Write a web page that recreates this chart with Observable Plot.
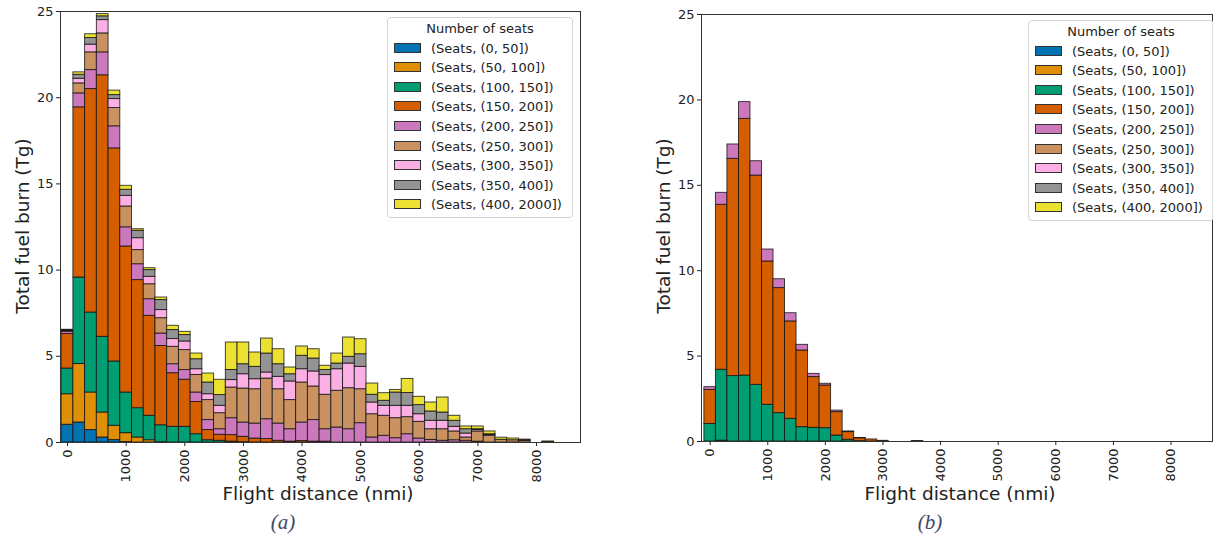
<!DOCTYPE html>
<html><head><meta charset="utf-8">
<script src="https://cdn.jsdelivr.net/npm/d3@7"></script>
<script src="https://cdn.jsdelivr.net/npm/@observablehq/plot@0.6"></script>
<style>
body{margin:0;background:#fff;width:1213px;height:540px;overflow:hidden;font-family:"DejaVu Sans",sans-serif;color:#222;}
#root{position:relative;width:1213px;height:540px;}
.panel{position:absolute;top:0;}
.abs{position:absolute;white-space:nowrap;}
.ylab{font-size:18.5px;transform:translate(-50%,-50%) rotate(-90deg);}
.xlab{font-size:18.5px;transform:translate(-50%,-50%);}
.cap{font-family:"Liberation Serif",serif;font-style:italic;font-size:21px;color:#3d4a68;transform:translate(-50%,-50%);}
.legbox{position:absolute;border:1px solid #d3d3d3;border-radius:4px;background:rgba(255,255,255,0.85);box-sizing:border-box;z-index:5;}
.legtitle{position:absolute;font-size:13px;transform:translate(-50%,-50%);z-index:6;white-space:nowrap;}
.legtext{position:absolute;font-size:13px;transform:translateY(-50%);z-index:6;white-space:nowrap;}
.sw{position:absolute;width:27px;height:10px;border:1px solid #333;box-sizing:border-box;z-index:6;}
</style></head><body><div id="root"></div>
<script>
const seatLabels = ["(Seats, (0, 50])","(Seats, (50, 100])","(Seats, (100, 150])","(Seats, (150, 200])","(Seats, (200, 250])","(Seats, (250, 300])","(Seats, (300, 350])","(Seats, (350, 400])","(Seats, (400, 2000])"];
const seatColors = ["#0173B2","#DE8F05","#029E73","#D55E00","#CC78BC","#CA9161","#FBAFE4","#949494","#ECE133"];
const xTicks = [0,1000,2000,3000,4000,5000,6000,7000,8000];
const yTicks = [0,5,10,15,20,25];
const binWidth = 200;

// Panel (a): bin centres (nmi)
const binCentersA = [0,200,400,600,800,1000,1200,1400,1600,1800,2000,2200,2400,2600,2800,3000,3200,3400,3600,3800,4000,4200,4400,4600,4800,5000,5200,5400,5600,5800,6000,6200,6400,6600,6800,7000,7200,7400,7600,7800,8000,8200];
const seats0_50A    = [1.03,1.16,0.72,0.29,0.14,0.03,0,0,0,0,0,0,0,0,0,0,0,0,0,0,0,0,0,0,0,0,0,0,0,0,0,0,0,0,0,0,0,0,0,0,0,0];
const seats50_100A  = [1.77,3.39,2.18,1.45,0.83,0.51,0.29,0.13,0.02,0,0,0,0,0,0,0,0,0,0,0,0,0,0,0,0,0,0,0,0,0,0,0,0,0,0,0,0,0,0,0,0,0];
const seats100_150A = [1.49,5.02,4.64,4.39,3.73,2.36,1.70,1.42,0.98,0.91,0.91,0.48,0.13,0.10,0.05,0.02,0,0,0,0,0,0,0,0,0,0,0,0,0,0,0,0,0,0,0,0,0,0,0,0,0,0];
const seats150_200A = [2.00,9.87,12.96,15.17,12.36,8.47,7.43,5.80,4.60,3.11,2.73,1.87,0.59,0.35,0.38,0.31,0.23,0.20,0.10,0.05,0.08,0.05,0.05,0,0,0,0,0,0,0,0,0,0,0,0,0,0,0,0,0,0,0];
const seats200_250A = [0.13,0.81,1.10,1.33,1.28,1.11,0.92,0.96,0.72,0.52,0.56,0.55,0.58,0.32,0.98,0.83,0.87,1.15,1.00,0.72,1.08,1.25,0.72,0.87,0.77,1.12,0.29,0.39,0.25,0.48,0.23,0.15,0.10,0.13,0.10,0.05,0,0,0,0,0,0];
const seats250_300A = [0.05,0.58,1.03,1.10,1.06,1.21,0.82,0.87,0.89,1.01,1.16,1.02,1.16,0.93,1.78,1.97,1.99,2.36,1.99,1.69,2.32,1.95,2.00,2.13,2.38,1.97,1.35,1.16,1.16,0.99,0.97,0.62,0.67,0.51,0.19,0.59,0.39,0.16,0.13,0.10,0,0];
const seats300_350A = [0.03,0.27,0.45,0.77,0.52,0.62,0.69,0.43,0.47,0.45,0.50,0.33,0.34,0.43,0.43,0.83,0.58,0.35,0.72,1.08,0.77,0.87,1.14,1.25,1.43,1.30,0.68,0.58,0.72,0.66,0.44,0.49,0.49,0.27,0.23,0.08,0.05,0,0,0,0,0];
const seats350_400A = [0.02,0.23,0.38,0.22,0.23,0.35,0.43,0.39,0.58,0.52,0.37,0.58,0.68,0.62,0.59,0.58,0.72,1.10,0.73,0.42,0.78,0.75,0.30,0.33,0.39,0.73,0.45,0.29,0.77,0.74,0.53,0.54,0.48,0.35,0.25,0.05,0.04,0,0,0.02,0,0.03];
const seats400_2000A= [0.02,0.14,0.22,0.13,0.26,0.23,0.09,0.11,0.15,0.25,0.19,0.33,0.52,0.89,1.59,1.26,0.83,0.87,0.87,0.39,0.54,0.54,0.24,0.58,1.12,0.87,0.65,0.44,0.15,0.82,0.48,0.52,0.87,0.29,0.16,0.16,0.16,0.12,0.10,0.05,0,0.03];

// Panel (b)
const binCentersB = [0,200,400,600,800,1000,1200,1400,1600,1800,2000,2200,2400,2600,2800,3000,3200,3400,3600];
const seats0_50B    = [0,0,0,0,0,0,0,0,0,0,0,0,0,0,0,0,0,0,0];
const seats50_100B  = [0,0.05,0,0,0,0,0,0,0,0,0,0,0,0,0,0,0,0,0];
const seats100_150B = [1.03,4.15,3.83,3.86,3.32,2.15,1.66,1.33,0.84,0.80,0.78,0.35,0.10,0.02,0,0,0,0,0];
const seats150_200B = [1.99,9.66,12.72,15.03,12.25,8.39,7.32,5.70,4.49,2.97,2.50,1.37,0.45,0.17,0.12,0.04,0,0,0.03];
const seats200_250B = [0.16,0.70,0.84,0.98,0.84,0.70,0.52,0.48,0.33,0.19,0.10,0.09,0.04,0.02,0,0,0,0,0];
const seats250_300B = [0,0,0,0,0,0,0,0,0,0,0,0,0,0,0,0,0,0,0];
const seats300_350B = [0,0,0,0,0,0,0,0,0,0,0,0,0,0,0,0,0,0,0];
const seats350_400B = [0,0,0,0,0,0,0,0,0,0,0,0,0,0,0,0,0,0,0];
const seats400_2000B= [0,0,0,0,0,0,0,0,0,0,0,0,0,0,0,0,0,0,0];

function stackRows(centers, series) {
  const rows = [];
  centers.forEach((c, i) => {
    let y = 0;
    series.forEach((s, k) => {
      const v = s[i];
      if (v > 0) rows.push({x1: c - binWidth / 2, x2: c + binWidth / 2, y1: y, y2: y + v, seat: seatLabels[k]});
      y += v;
    });
  });
  return rows;
}

const rowsA = stackRows(binCentersA, [seats0_50A, seats50_100A, seats100_150A, seats150_200A, seats200_250A, seats250_300A, seats300_350A, seats350_400A, seats400_2000A]);
const rowsB = stackRows(binCentersB, [seats0_50B, seats50_100B, seats100_150B, seats150_200B, seats200_250B, seats250_300B, seats300_350B, seats350_400B, seats400_2000B]);

function makePanel(rows, o) {
  return Plot.plot({
    width: o.width, height: 510,
    marginTop: o.marginTop, marginBottom: o.marginBottom, marginLeft: o.marginLeft, marginRight: o.marginRight,
    style: {fontFamily: "DejaVu Sans", fontSize: "13px", color: "#222", background: "transparent", overflow: "visible"},
    x: {domain: o.xDomain, ticks: xTicks, tickFormat: d => String(d), tickRotate: -90, tickSize: 4, tickPadding: 3, label: null},
    y: {domain: [0, 25], ticks: yTicks, tickSize: 4, tickPadding: 3, label: null},
    color: {domain: seatLabels, range: seatColors},
    marks: [
      Plot.rect(rows, {x1: "x1", x2: "x2", y1: "y1", y2: "y2", fill: "seat", stroke: "#111", strokeWidth: 0.9, strokeOpacity: 0.85}),
      Plot.frame({stroke: "#333", strokeWidth: 1})
    ]
  });
}

const root = document.getElementById("root");
function place(el, left) { const d = document.createElement("div"); d.className = "panel"; d.style.left = left + "px"; d.appendChild(el); root.appendChild(d); }
place(makePanel(rowsA, {width: 600, marginTop: 11, marginBottom: 68, marginLeft: 60, marginRight: 20, xDomain: [-120, 8750]}), 0);
place(makePanel(rowsB, {width: 613, marginTop: 14, marginBottom: 69, marginLeft: 101, marginRight: 1, xDomain: [-150, 8720]}), 600);

function text(cls, str, x, y) { const d = document.createElement("div"); d.className = "abs " + cls; d.textContent = str; d.style.left = x + "px"; d.style.top = y + "px"; root.appendChild(d); }
text("ylab", "Total fuel burn (Tg)", 22, 226);
text("ylab", "Total fuel burn (Tg)", 663, 226);
text("xlab", "Flight distance (nmi)", 318, 493);
text("xlab", "Flight distance (nmi)", 960, 493);
text("cap", "(a)", 283, 522);
text("cap", "(b)", 930, 522);

function legend(left, top, width) {
  const box = document.createElement("div"); box.className = "legbox";
  Object.assign(box.style, {left: left + "px", top: top + "px", width: width + "px", height: "201px"});
  root.appendChild(box);
  const t = document.createElement("div"); t.className = "legtitle"; t.textContent = "Number of seats";
  Object.assign(t.style, {left: (left + 93) + "px", top: (top + 11) + "px"}); root.appendChild(t);
  seatLabels.forEach((lab, k) => {
    const cy = top + 30.5 + k * 19.6;
    const sw = document.createElement("div"); sw.className = "sw";
    Object.assign(sw.style, {left: (left + 7) + "px", top: (cy - 5) + "px", background: seatColors[k]}); root.appendChild(sw);
    const tx = document.createElement("div"); tx.className = "legtext"; tx.textContent = lab;
    Object.assign(tx.style, {left: (left + 44) + "px", top: cy + "px"}); root.appendChild(tx);
  });
}
legend(387, 17, 186);
legend(1028, 20, 186);
</script>
</body></html>
